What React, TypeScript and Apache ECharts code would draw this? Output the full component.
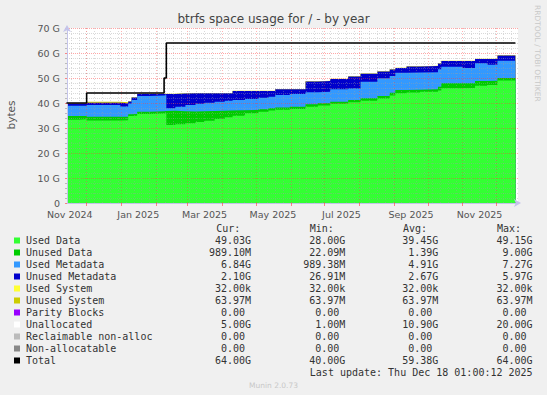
import React, { useEffect, useRef } from "react";
import * as echarts from "echarts";

const DAY = 86400000;
const DAY0 = Date.UTC(2024, 10, 1);

// sample dates (value holds from this date until the next one)
const dates = [
  "2024-11-13", "2024-11-25", "2024-12-01", "2024-12-31", "2025-01-07", "2025-01-10",
  "2025-01-15", "2025-01-26", "2025-02-08", "2025-02-10", "2025-02-18", "2025-02-27",
  "2025-03-08", "2025-03-16", "2025-03-25", "2025-04-03", "2025-04-10", "2025-04-21",
  "2025-05-03", "2025-05-12", "2025-05-18", "2025-05-31", "2025-06-14", "2025-06-25",
  "2025-07-06", "2025-07-22", "2025-08-02", "2025-08-17", "2025-08-28", "2025-09-02",
  "2025-09-12", "2025-09-24", "2025-10-10", "2025-10-13", "2025-11-01", "2025-11-12",
  "2025-11-23", "2025-12-02", "2025-12-18",
];

// values in GB
const usedData = [
  33.3, 33.5, 33.0, 33.1, 34.8, 34.9, 35.6, 35.8, 35.9, 31.2, 31.5, 31.9,
  32.4, 32.9, 33.6, 34.3, 34.9, 35.9, 36.5, 37.0, 37.3, 37.6, 38.5, 39.0,
  39.7, 40.3, 40.9, 41.8, 43.0, 43.9, 44.2, 44.5, 45.0, 45.9, 46.0, 46.9,
  47.2, 49.0, 49.03,
];
const unusedData = [
  1.5, 1.3, 1.5, 1.4, 0.7, 0.7, 0.9, 0.9, 0.9, 5.7, 5.2, 4.7,
  4.3, 3.9, 3.3, 2.7, 2.2, 1.3, 1.0, 0.9, 0.9, 0.9, 1.0, 0.9,
  0.8, 0.9, 1.0, 1.0, 1.1, 1.3, 1.1, 1.0, 1.5, 2.0, 1.9, 1.9,
  1.7, 1.0, 0.99,
];
const usedMetadata = [
  4.1, 4.1, 4.7, 4.1, 4.3, 5.6, 6.3, 6.3, 6.4, 1.0, 1.8, 2.6,
  3.0, 3.3, 3.6, 3.9, 4.1, 4.4, 4.6, 4.6, 5.0, 5.1, 4.8, 4.6,
  5.0, 4.6, 6.6, 7.1, 6.7, 6.9, 6.9, 6.8, 7.0, 6.6, 6.1, 7.1,
  6.4, 6.9, 6.84,
];
const unusedMetadata = [
  0.9, 0.9, 0.9, 1.3, 0.8, 1.0, 0.8, 0.6, 0.4, 5.7, 5.3, 4.7,
  4.2, 3.8, 3.4, 3.0, 3.6, 3.2, 2.7, 2.3, 2.3, 1.9, 4.3, 4.3,
  4.1, 4.8, 3.2, 2.7, 2.6, 1.9, 2.4, 2.5, 2.3, 2.3, 2.8, 1.7,
  2.3, 2.1, 2.1,
];
const usedSystem = [
  0.00003, 0.00003, 0.00003, 0.00003, 0.00003, 0.00003, 0.00003, 0.00003, 0.00003, 0.00003, 0.00003, 0.00003,
  0.00003, 0.00003, 0.00003, 0.00003, 0.00003, 0.00003, 0.00003, 0.00003, 0.00003, 0.00003, 0.00003, 0.00003,
  0.00003, 0.00003, 0.00003, 0.00003, 0.00003, 0.00003, 0.00003, 0.00003, 0.00003, 0.00003, 0.00003, 0.00003,
  0.00003, 0.00003, 0.00003,
];
const unusedSystem = [
  0.06, 0.06, 0.35, 0.35, 0.06, 0.06, 0.06, 0.06, 0.06, 0.06, 0.06, 0.06,
  0.06, 0.06, 0.06, 0.06, 0.06, 0.06, 0.06, 0.06, 0.06, 0.06, 0.06, 0.06,
  0.06, 0.06, 0.06, 0.06, 0.06, 0.06, 0.06, 0.06, 0.06, 0.06, 0.06, 0.06,
  0.06, 0.06, 0.06,
];
const total = [
  40, 40, 44, 44, 44, 44, 44, 44, 50, 64, 64, 64,
  64, 64, 64, 64, 64, 64, 64, 64, 64, 64, 64, 64,
  64, 64, 64, 64, 64, 64, 64, 64, 64, 64, 64, 64,
  64, 64, 64,
];

// axis marks
const monthStarts = [
  "2024-12-01", "2025-01-01", "2025-02-01", "2025-03-01", "2025-04-01", "2025-05-01",
  "2025-06-01", "2025-07-01", "2025-08-01", "2025-09-01", "2025-10-01", "2025-11-01", "2025-12-01",
];
const labelDates = ["2024-11-16", "2025-01-16", "2025-03-16", "2025-05-16", "2025-07-16", "2025-09-16", "2025-11-16"];
const labelTexts = ["Nov 2024", "Jan 2025", "Mar 2025", "May 2025", "Jul 2025", "Sep 2025", "Nov 2025"];
const firstWeekLine = "2024-11-17";
const lastWeekLine = "2025-12-14";

// legend table
const legendNames = [
  "Used Data", "Unused Data", "Used Metadata", "Unused Metadata", "Used System", "Unused System",
  "Parity Blocks", "Unallocated", "Reclaimable non-alloc", "Non-allocatable", "Total",
];
const legendColors = [
  "#33FF33", "#00CC00", "#3399FF", "#0000CC", "#FFFF33", "#CCCC00",
  "#9900FF", "#FFFFFF", "#BBBBBB", "#888888", "#000000",
];
const curValues = ["49.03G", "989.10M", "6.84G", "2.10G", "32.00k", "63.97M", "0.00", "5.00G", "0.00", "0.00", "64.00G"];
const minValues = ["28.00G", "22.09M", "989.38M", "26.91M", "32.00k", "63.97M", "0.00", "1.00M", "0.00", "0.00", "40.00G"];
const avgValues = ["39.45G", "1.39G", "4.91G", "2.67G", "32.00k", "63.97M", "0.00", "10.90G", "0.00", "0.00", "59.38G"];
const maxValues = ["49.15G", "9.00G", "7.27G", "5.97G", "32.00k", "63.97M", "0.00", "20.00G", "0.00", "0.00", "64.00G"];

const MONO = '"DejaVu Sans Mono", monospace';
const SANS = '"DejaVu Sans", sans-serif';

const toDay = (d: string) => (Date.parse(d) - DAY0) / DAY;

export default function App() {
  const ref = useRef<HTMLDivElement>(null);
  useEffect(() => {
    if (!ref.current) return;
    const chart = echarts.init(ref.current, null, { renderer: "svg" });
    const xs = dates.map(toDay);

    // stacking order, bottom to top
    const layers = [
      { name: "Used Data", data: usedData, color: legendColors[0] },
      { name: "Unused Data", data: unusedData, color: legendColors[1] },
      { name: "Used Metadata", data: usedMetadata, color: legendColors[2] },
      { name: "Unused Metadata", data: unusedMetadata, color: legendColors[3] },
      { name: "Used System", data: usedSystem, color: legendColors[4] },
      { name: "Unused System", data: unusedSystem, color: legendColors[5] },
    ];
    const cum: number[][] = [];
    layers.forEach((l, k) => {
      cum.push(l.data.map((v, i) => v + (k > 0 ? cum[k - 1][i] : 0)));
    });
    const areaSeries: any[] = [];
    // unallocated (white) fills up to total
    areaSeries.push({
      type: "line", name: "Unallocated", step: "end", symbol: "none", silent: true,
      data: total.map((t, i) => [xs[i], t]),
      lineStyle: { width: 0 }, areaStyle: { color: "#FFFFFF", opacity: 1 }, z: 2,
    });
    for (let k = layers.length - 1; k >= 0; k--) {
      areaSeries.push({
        type: "line", name: layers[k].name, step: "end", symbol: "none", silent: true,
        data: cum[k].map((v, i) => [xs[i], v]),
        lineStyle: { width: 0 }, areaStyle: { color: layers[k].color, opacity: 1 }, z: 2,
      });
    }

    const weekLines: any[] = [];
    for (let d = toDay(firstWeekLine); d <= toDay(lastWeekLine); d += 7) {
      weekLines.push({ xAxis: d, lineStyle: { color: "rgba(160,160,160,0.4)", type: [1, 2], width: 1 } });
    }
    const monthDays = monthStarts.map(toDay);
    const monthLines = monthDays.map((d) => ({
      xAxis: d,
      lineStyle: { color: "rgba(255,60,60,0.38)", type: [1, 2], width: 1 },
    }));

    const labelVals = labelDates.map(toDay);
    const graphics: any[] = [];
    const txt = (text: string, x: number, y: number, font: string, fill: string, align: string) => ({
      type: "text",
      style: { text, x, y, font, fill, align, verticalAlign: "middle", textAlign: align, textVerticalAlign: "middle" },
    });
    graphics.push(txt("btrfs space usage for / - by year", 273.5, 19, `12px ${SANS}`, "#444", "center"));
    graphics.push({ ...txt("bytes", 0, 0, `10.5px ${SANS}`, "#555", "center"), rotation: Math.PI / 2, x: 11, y: 115 });
    graphics.push({ ...txt("RRDTOOL / TOBI OETIKER", 0, 0, `7.5px ${SANS}`, "#c8c8c8", "left"), rotation: -Math.PI / 2, x: 537, y: 5 });
    const headers = ["Cur:", "Min:", "Avg:", "Max:"];
    const headerX = [216.3, 309.7, 402.9, 497];
    headers.forEach((h, i) => graphics.push(txt(h, headerX[i], 228, `10px ${MONO}`, "#333", "left")));
    const colRight = [251.1, 345.3, 438.4, 532.6];
    const charW = 6.02;
    const cols = [curValues, minValues, avgValues, maxValues];
    legendNames.forEach((name, r) => {
      const y = 240.5 + r * 12;
      graphics.push({ type: "rect", shape: { x: 14, y: y - 3, width: 6, height: 6 }, style: { fill: legendColors[r] } });
      graphics.push(txt(name, 26, y, `10px ${MONO}`, "#333", "left"));
      cols.forEach((col, c) => {
        const s = col[r];
        const hasUnit = /[A-Za-z]$/.test(s);
        graphics.push(txt(s, colRight[c] - (hasUnit ? 0 : charW), y, `10px ${MONO}`, "#333", "right"));
      });
    });
    graphics.push(txt("Last update: Thu Dec 18 01:00:12 2025", 532.6, 372.5, `10px ${MONO}`, "#333", "right"));
    graphics.push(txt("Munin 2.0.73", 273.5, 385, `7.5px ${SANS}`, "#c8c8c8", "center"));

    const option: any = {
      animation: false,
      backgroundColor: "#F0F0F0",
      grid: { left: 67, top: 28, width: 451, height: 175, show: true, backgroundColor: "#FFFFFF", borderWidth: 0 },
      xAxis: {
        type: "value",
        min: 12.5,
        max: 414.3,
        z: 4,
        axisLine: { show: true, onZero: false, lineStyle: { color: "#c4c4ea", width: 1 }, symbol: ["none", "arrow"], symbolSize: [6, 7], symbolOffset: [0, 3] },
        axisTick: { show: true, length: 3, customValues: monthDays, lineStyle: { color: "rgba(255,60,60,0.6)" } },
        axisLabel: {
          show: true,
          customValues: labelVals,
          formatter: (v: number) => {
            let best = 0;
            labelVals.forEach((lv, i) => { if (Math.abs(lv - v) < Math.abs(labelVals[best] - v)) best = i; });
            return labelTexts[best];
          },
          color: "#555",
          fontFamily: SANS,
          fontSize: 9.5,
          margin: 6,
        },
        splitLine: { show: false },
      },
      yAxis: {
        type: "value",
        min: 0,
        max: 70,
        interval: 10,
        z: 4,
        axisLine: { show: true, lineStyle: { color: "#c4c4ea", width: 1 }, symbol: ["none", "arrow"], symbolSize: [6, 7], symbolOffset: [0, 3] },
        axisTick: { show: true, length: 2, lineStyle: { color: "rgba(255,60,60,0.6)" } },
        minorTick: { show: true, splitNumber: 5, length: 2, lineStyle: { color: "#bbbbbb" } },
        splitLine: { show: true, lineStyle: { color: "rgba(255,60,60,0.45)", type: [1, 1], width: 1 } },
        minorSplitLine: { show: true, lineStyle: { color: "rgba(160,160,160,0.4)", type: [1, 1], width: 1 } },
        axisLabel: {
          formatter: (v: number) => (v === 0 ? "0" : `${v} G`),
          color: "#555",
          fontFamily: SANS,
          fontSize: 9.5,
          margin: 7,
        },
      },
      graphic: graphics,
      series: [
        ...areaSeries,
        {
          type: "line",
          name: "Total",
          step: "end",
          symbol: "none",
          silent: true,
          data: total.map((t, i) => [xs[i], t]),
          lineStyle: { color: "#000", width: 1.6 },
          z: 6,
          markLine: {
            silent: true,
            symbol: ["none", "none"],
            label: { show: false },
            lineStyle: { type: [1, 2], width: 1 },
            z: 5,
            animation: false,
            data: [...weekLines, ...monthLines],
          },
        },
      ],
    };
    chart.setOption(option);
    return () => chart.dispose();
  }, []);
  return <div ref={ref} style={{ position: "absolute", left: 0, top: 0, width: 547, height: 395 }} />;
}
